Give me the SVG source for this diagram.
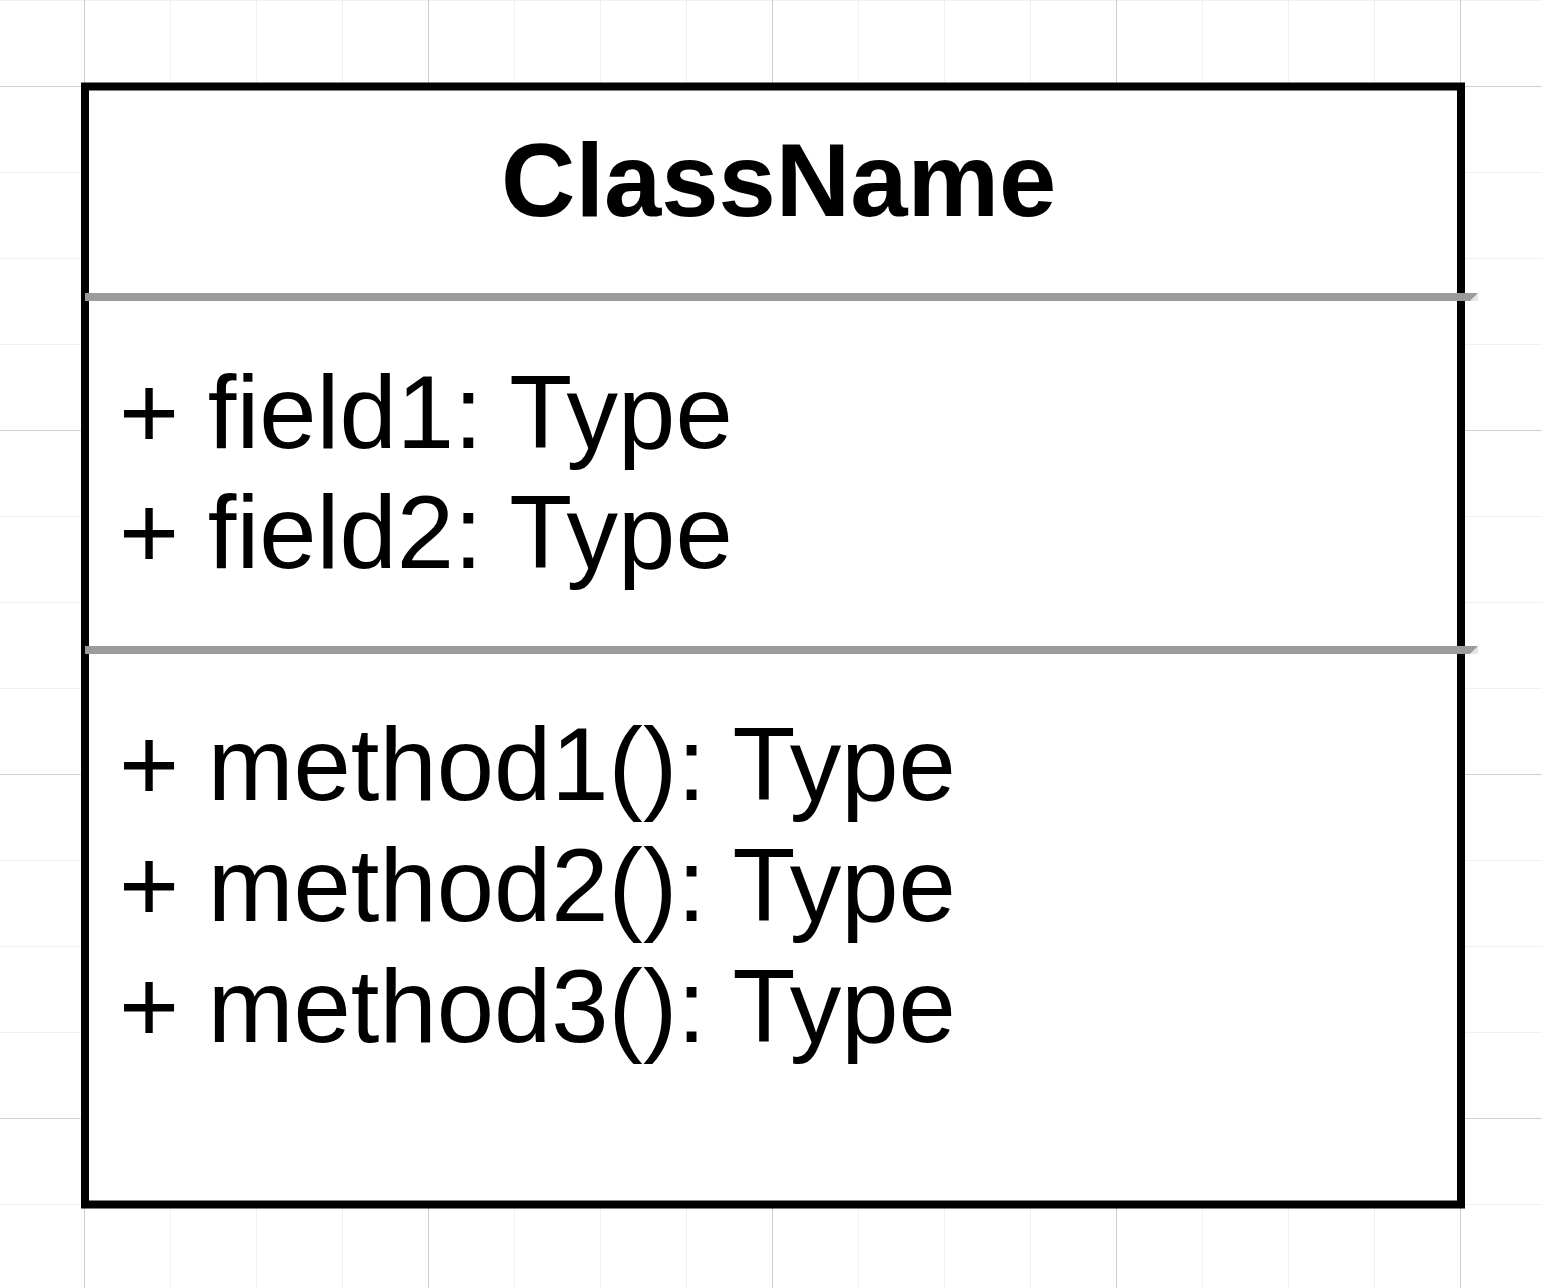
<svg xmlns="http://www.w3.org/2000/svg" width="1542" height="1288" viewBox="0 0 1542 1288">
  <style>
    .grid-minor { stroke: #f0f0f0; stroke-width: 1; fill: none; }
    .grid-major { stroke: #cfcfcf; stroke-width: 1; fill: none; }
    .box { fill: #ffffff; stroke: #000000; stroke-width: 8; stroke-linejoin: miter; }
    .divider { fill: #9b9b9b; }
    .divider-tip { fill: #e6e6e6; }
    .title { font-family: "Liberation Sans", Arial, Helvetica, sans-serif; font-weight: bold; font-size: 103px; fill: #000000; }
    .member { font-family: "Liberation Sans", Arial, Helvetica, sans-serif; font-size: 103px; fill: #000000; }
  </style>

  <!-- canvas background and grid -->
  <rect x="0" y="0" width="1542" height="1288" fill="#ffffff"/>
  <g id="grid">
    <path class="grid-minor" d="M84.5 0V1288 M170.5 0V1288 M256.5 0V1288 M342.5 0V1288 M428.5 0V1288 M514.5 0V1288 M600.5 0V1288 M686.5 0V1288 M772.5 0V1288 M858.5 0V1288 M944.5 0V1288 M1030.5 0V1288 M1116.5 0V1288 M1202.5 0V1288 M1288.5 0V1288 M1374.5 0V1288 M1460.5 0V1288
      M0 0.5H1542 M0 86.5H1542 M0 172.5H1542 M0 258.5H1542 M0 344.5H1542 M0 430.5H1542 M0 516.5H1542 M0 602.5H1542 M0 688.5H1542 M0 774.5H1542 M0 860.5H1542 M0 946.5H1542 M0 1032.5H1542 M0 1118.5H1542 M0 1204.5H1542"/>
    <path class="grid-major" d="M84.5 0V1288 M428.5 0V1288 M772.5 0V1288 M1116.5 0V1288 M1460.5 0V1288
      M0 86.5H1542 M0 430.5H1542 M0 774.5H1542 M0 1118.5H1542"/>
  </g>

  <!-- UML class box -->
  <g id="class-node">
    <rect class="box" x="85" y="86.5" width="1376" height="1118"/>

    <!-- compartment dividers -->
    <polygon class="divider-tip" points="1470,301 1478,293 1478,301"/>
    <polygon class="divider" points="85,293 1478,293 1470,301 85,301"/>
    <polygon class="divider-tip" points="1470,654 1478,646 1478,654"/>
    <polygon class="divider" points="85,646 1478,646 1470,654 85,654"/>

    <text class="title" x="501" y="216">ClassName</text>

    <text class="member" x="119" y="448">+ field1: Type</text>
    <text class="member" x="119" y="568">+ field2: Type</text>

    <text class="member" x="119" y="800">+ method1(): Type</text>
    <text class="member" x="119" y="921">+ method2(): Type</text>
    <text class="member" x="119" y="1042">+ method3(): Type</text>
  </g>

  <g id="connectors"/>
</svg>
